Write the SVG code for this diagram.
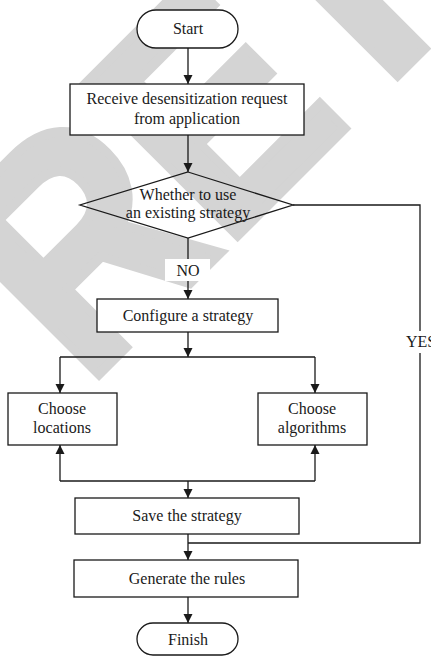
<svg xmlns="http://www.w3.org/2000/svg" width="431" height="656" viewBox="0 0 431 656">
<style>
.wm{font-family:"Liberation Sans",Arial,sans-serif;font-weight:bold;font-size:312px;fill:#d4d4d4;stroke:#d4d4d4;stroke-width:10;stroke-linejoin:miter}
.box{fill:#fff;stroke:#1a1a1a;stroke-width:1.3}
.dia{fill:none;stroke:#1a1a1a;stroke-width:1.3}
.lbl{font-family:"Liberation Serif","Times New Roman",serif;font-size:16px;fill:#1a1a1a;text-anchor:middle}
.ln{fill:none;stroke:#1a1a1a;stroke-width:1.3}
.arr{marker-end:url(#ah)}
</style>
<defs>
<marker id="ah" viewBox="0 0 10 10" refX="10" refY="5" markerWidth="9" markerHeight="10" markerUnits="userSpaceOnUse" orient="auto">
<path d="M0,0 L10,5 L0,10 z" fill="#1a1a1a"/>
</marker>
</defs>
<rect width="431" height="656" fill="#fff"/>
<text class="wm" transform="rotate(-45) scale(0.87,1)" x="-245" y="334.4">RETRACTED</text>
<g id="connectors">
<path class="ln arr" d="M188,48 V84"/>
<path class="ln arr" d="M188,135 V172"/>
<path class="ln arr" d="M188,238 V299"/>
<path class="ln arr" d="M188,332 V357"/>
<path class="ln" d="M60,357 H315"/>
<path class="ln arr" d="M60,357 V393"/>
<path class="ln arr" d="M315,357 V393"/>
<path class="ln" d="M60,481 H315"/>
<path class="ln arr" d="M60,481 V445"/>
<path class="ln arr" d="M315,481 V445"/>
<path class="ln arr" d="M188,481 V498"/>
<path class="ln arr" d="M188,534 V560"/>
<path class="ln" d="M293,205 H420 V543 H188"/>
<path class="ln arr" d="M188,597 V623"/>
<g id="label-no"><rect x="165" y="259" width="45" height="22" fill="#fff"/><text class="lbl" x="188" y="276">NO</text></g>
<g id="label-yes"><rect x="406" y="331" width="30" height="22" fill="#fff"/><text class="lbl" x="421" y="347">YES</text></g>
</g>
<g id="start"><rect class="box" x="137" y="10" width="101" height="38" rx="19"/><text class="lbl" x="188" y="34">Start</text></g>
<g id="receive"><rect class="box" x="70" y="84" width="234" height="51"/><text class="lbl" x="187" y="104">Receive desensitization request</text><text class="lbl" x="187" y="124">from application</text></g>
<g id="decision"><polygon class="dia" points="188,172 293,205 188,238 80,205"/><text class="lbl" x="188" y="200">Whether to use</text><text class="lbl" x="188" y="218">an existing strategy</text></g>
<g id="configure"><rect class="box" x="97" y="299" width="181" height="33"/><text class="lbl" x="188" y="321">Configure a strategy</text></g>
<g id="locations"><rect class="box" x="8" y="393" width="109" height="52"/><text class="lbl" x="62" y="414">Choose</text><text class="lbl" x="62" y="433">locations</text></g>
<g id="algorithms"><rect class="box" x="258" y="393" width="109" height="52"/><text class="lbl" x="312" y="414">Choose</text><text class="lbl" x="312" y="433">algorithms</text></g>
<g id="save"><rect class="box" x="75" y="498" width="224" height="36"/><text class="lbl" x="187" y="521">Save the strategy</text></g>
<g id="generate"><rect class="box" x="74" y="560" width="224" height="37"/><text class="lbl" x="187" y="584">Generate the rules</text></g>
<g id="finish"><rect class="box" x="137" y="623" width="101" height="32" rx="16"/><text class="lbl" x="188" y="645">Finish</text></g>
</svg>
